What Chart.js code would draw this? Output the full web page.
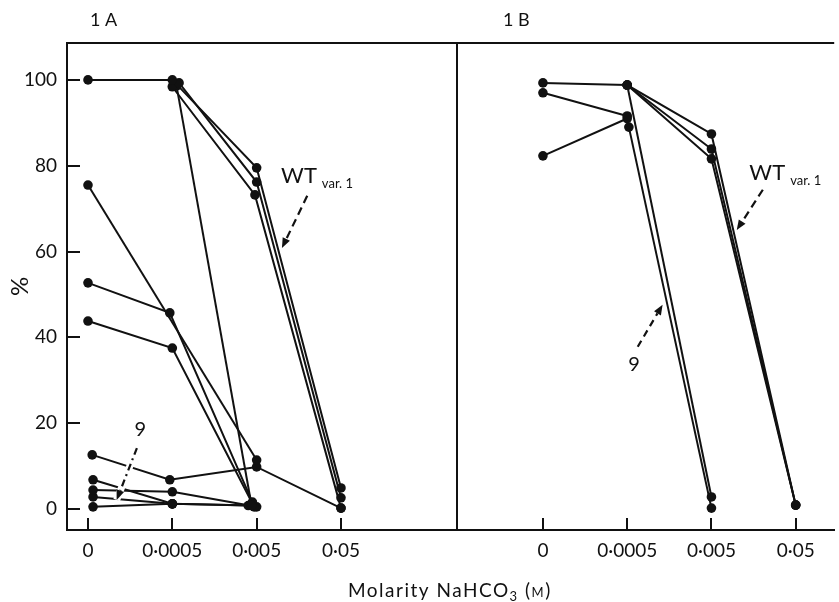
<!DOCTYPE html>
<html>
<head>
<meta charset="utf-8">
<script src="https://cdn.jsdelivr.net/npm/chart.js@4.4.1/dist/chart.umd.min.js"></script>
<style>
  html, body { margin: 0; padding: 0; background: #fff; }
  #wrap { position: relative; width: 839px; height: 602px; }
  canvas { position: absolute; left: 0; top: 0; }
</style>
</head>
<body>
<div id="wrap">
  <canvas id="chartA" width="839" height="602"></canvas>
  <canvas id="chartB" width="839" height="602"></canvas>
</div>
<script>
// categories of the x axis (molarity NaHCO3) and y ticks (%)
var xLabels = ['0', '0·0005', '0·005', '0·05'];
var yTicks = [0, 20, 40, 60, 80, 100];

// Panel 1A : points as [category index, %]
var a1 = [[0, 100], [1, 100], [2, 79.5], [3, 4.9]];      // WT var. 1
var a2 = [[1.08, 99.3], [2, 76.2], [3, 2.6]];            // WT var. 1
var a3 = [[1, 98.4], [1.98, 73.2], [3, 0.2]];            // WT var. 1
var a4 = [[1.05, 98.6], [1.94, 0.8]];
var a5 = [[0, 75.5], [2, 11.4]];
var a6 = [[0, 52.7], [0.97, 45.7], [1.95, 1.6]];
var a7 = [[0, 43.8], [1, 37.5], [1.97, 0.5]];
var a8 = [[0.05, 12.6], [0.97, 6.8], [2, 9.8], [3, 0.2]];
var a9 = [[0.06, 6.8], [1, 1.2], [1.95, 0.8]];           // 9
var a10 = [[0.06, 4.4], [1, 4.0], [2, 0.5]];
var a11 = [[0.06, 2.8], [1, 1.2]];
var a12 = [[0.06, 0.5], [1, 1.2], [1.9, 0.8]];
var seriesA = [a1, a2, a3, a4, a5, a6, a7, a8, a9, a10, a11, a12];

// Panel 1B
var b1 = [[0, 99.3], [1, 98.8], [2, 87.4], [3, 0.9]];    // WT var. 1
var b2 = [[1, 98.8], [2, 83.9], [3, 0.9]];
var b3 = [[1, 98.8], [2, 81.6], [3, 0.9]];
var b4 = [[1, 98.8], [2, 2.8]];                          // 9
var b5 = [[0, 97.0], [1, 91.6]];
var b6 = [[0, 82.3], [1, 91.0]];
var b7 = [[1.02, 89.0], [2, 0.2]];
var seriesB = [b1, b2, b3, b4, b5, b6, b7];

var INK = '#111';
var FONT = 'Lato';

function toDatasets(list) {
  return list.map(function (s) {
    return {
      data: s.map(function (p) { return { x: p[0], y: p[1] }; }),
      borderColor: INK,
      borderWidth: 2,
      backgroundColor: INK,
      pointRadius: 4.8,
      pointBorderWidth: 0,
      tension: 0,
      clip: false
    };
  });
}

function arrow(ctx, x1, y1, x2, y2, dash, halo) {
  var ang = Math.atan2(y2 - y1, x2 - x1);
  var hl = 10;
  var bx = x2 - Math.cos(ang) * hl, by = y2 - Math.sin(ang) * hl;
  ctx.save();
  if (halo) {
    ctx.strokeStyle = '#fff';
    ctx.lineWidth = 7;
    ctx.beginPath(); ctx.moveTo(x1, y1); ctx.lineTo(x2, y2); ctx.stroke();
  }
  ctx.strokeStyle = INK;
  ctx.lineWidth = 2.2;
  ctx.setLineDash(dash);
  ctx.beginPath(); ctx.moveTo(x1, y1); ctx.lineTo(bx, by); ctx.stroke();
  ctx.setLineDash([]);
  ctx.fillStyle = INK;
  ctx.beginPath();
  ctx.moveTo(x2, y2);
  ctx.lineTo(bx + Math.sin(ang) * 4, by - Math.cos(ang) * 4);
  ctx.lineTo(bx - Math.sin(ang) * 4, by + Math.cos(ang) * 4);
  ctx.closePath(); ctx.fill();
  ctx.restore();
}

function wtLabel(ctx, x, y) {
  ctx.save();
  ctx.fillStyle = INK;
  ctx.textBaseline = 'alphabetic';
  ctx.font = '22px ' + FONT;
  ctx.fillText('WT', x, y);
  var w = ctx.measureText('WT').width;
  ctx.font = '13px ' + FONT;
  ctx.fillText('var. 1', x + w + 5, y + 5);
  ctx.restore();
}

// notes: panel label, WT / 9 labels with their arrows (positions in data units)
function notesPlugin(o) {
  return {
    id: 'notes' + o.name,
    afterDatasetsDraw: function (chart) {
      var ctx = chart.ctx, a = chart.chartArea;
      var sx = chart.scales.x, sy = chart.scales.y;
      function px(v) { return sx.getPixelForValue(v); }
      function py(v) { return sy.getPixelForValue(v); }
      ctx.save();
      // frame: top (and right for panel A)
      ctx.strokeStyle = INK;
      ctx.lineWidth = 2;
      ctx.beginPath();
      ctx.moveTo(a.left - 1, a.top); ctx.lineTo(a.right, a.top);
      if (o.rightEdge) { ctx.moveTo(a.right, a.top - 1); ctx.lineTo(a.right, a.bottom); }
      ctx.stroke();
      // panel label
      ctx.fillStyle = INK;
      ctx.font = '18px ' + FONT;
      ctx.textBaseline = 'middle';
      ctx.fillText(o.name, a.left + o.labelDx, 20);
      ctx.restore();

      wtLabel(ctx, px(o.wt[0]), py(o.wt[1]));
      arrow(ctx, px(o.wtArrow[0]), py(o.wtArrow[1]), px(o.wtArrow[2]), py(o.wtArrow[3]), [8, 5], false);

      ctx.save();
      ctx.fillStyle = INK;
      ctx.font = '20px ' + FONT;
      ctx.textAlign = 'center';
      ctx.textBaseline = 'middle';
      ctx.fillText('9', px(o.nine[0]), py(o.nine[1]));
      ctx.restore();
      arrow(ctx, px(o.nineArrow[0]), py(o.nineArrow[1]), px(o.nineArrow[2]), py(o.nineArrow[3]), o.nineDash, o.halo);

      if (o.axisTitle) {
        // shared x-axis title under both panels
        ctx.save();
        ctx.fillStyle = INK;
        ctx.textBaseline = 'alphabetic';
        ctx.letterSpacing = '1.5px';
        var x = 348, y = 597;
        var parts = [['Molarity NaHCO', 19, 0], ['3', 13, 4], [' (', 19, 0], ['M', 13, 0], [')', 19, 0]];
        parts.forEach(function (p) {
          ctx.font = p[1] + 'px ' + FONT;
          ctx.fillText(p[0], x, y + p[2]);
          x += ctx.measureText(p[0]).width;
        });
        ctx.restore();
      }
    }
  };
}

function xScale(min, max) {
  return {
    type: 'linear',
    min: min,
    max: max,
    afterBuildTicks: function (ax) { ax.ticks = xLabels.map(function (l, i) { return { value: i }; }); },
    afterFit: function (ax) { ax.height = 72; },
    ticks: {
      callback: function (v) { return xLabels[v]; },
      autoSkip: false,
      maxRotation: 0,
      padding: 21,
      color: INK,
      font: { family: FONT, size: 19 }
    },
    grid: { drawOnChartArea: false, tickLength: -12, lineWidth: 2, color: INK },
    border: { display: true, width: 2, color: INK }
  };
}

function yScale(show) {
  return {
    type: 'linear',
    min: -4.9,
    max: 108.6,
    display: show,
    afterBuildTicks: function (ax) { ax.ticks = yTicks.map(function (v) { return { value: v }; }); },
    afterFit: function (ax) { ax.width = show ? 67 : 0; },
    ticks: { padding: 23, color: INK, font: { family: FONT, size: 19 } },
    grid: { drawOnChartArea: false, tickLength: -13, lineWidth: 2, color: INK },
    border: { display: true, width: 2, color: INK },
    title: { display: true, text: '%', color: INK, font: { family: FONT, size: 24 }, padding: { top: 6, bottom: 0 } }
  };
}

function baseOptions(padding, xs, ys) {
  return {
    responsive: false,
    animation: false,
    events: [],
    layout: { padding: padding },
    plugins: { legend: { display: false }, tooltip: { enabled: false } },
    scales: { x: xs, y: ys }
  };
}

new Chart(document.getElementById('chartA'), {
  type: 'line',
  data: { datasets: toDatasets(seriesA) },
  options: baseOptions({ top: 43, right: 382, bottom: 0, left: 0 }, xScale(-0.249, 4.376), yScale(true)),
  plugins: [notesPlugin({
    name: '1 A', labelDx: 23, rightEdge: true,
    wt: [2.29, 76.0], wtArrow: [2.60, 73.0, 2.30, 60.8],
    nine: [0.62, 18.4], nineArrow: [0.58, 14.2, 0.34, 2.1], nineDash: [7, 4, 2, 4], halo: true,
    axisTitle: true
  })]
});

new Chart(document.getElementById('chartB'), {
  type: 'line',
  data: { datasets: toDatasets(seriesB) },
  options: baseOptions({ top: 43, right: 0, bottom: 0, left: 457 }, xScale(-1.02, 3.457), yScale(false)),
  plugins: [notesPlugin({
    name: '1 B', labelDx: 46, rightEdge: false,
    wt: [2.45, 76.7], wtArrow: [2.61, 74.4, 2.30, 65.0],
    nine: [1.08, 33.6], nineArrow: [1.125, 37.8, 1.42, 47.6], nineDash: [7, 5], halo: false,
    axisTitle: false
  })]
});
</script>
</body>
</html>
